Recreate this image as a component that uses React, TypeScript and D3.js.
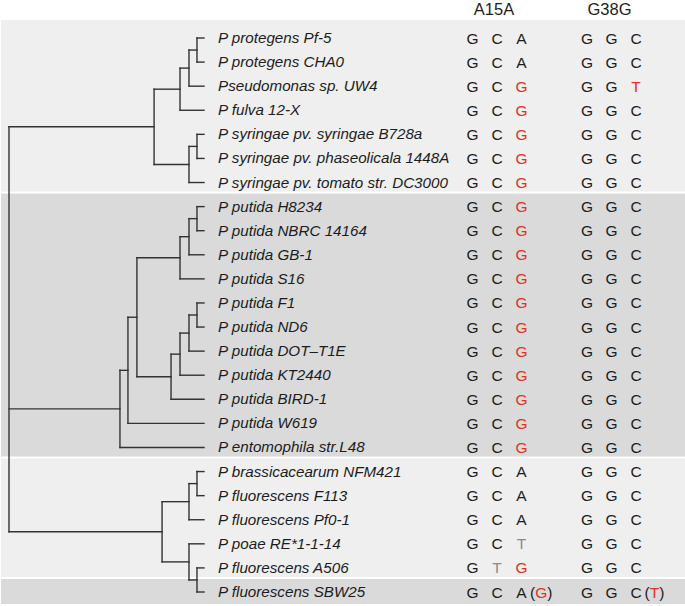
import React from "react";
import * as d3 from "d3";

const species = [
  "P protegens Pf-5",
  "P protegens CHA0",
  "Pseudomonas sp. UW4",
  "P fulva 12-X",
  "P syringae pv. syringae B728a",
  "P syringae pv. phaseolicala 1448A",
  "P syringae pv. tomato str. DC3000",
  "P putida H8234",
  "P putida NBRC 14164",
  "P putida GB-1",
  "P putida S16",
  "P putida F1",
  "P putida ND6",
  "P putida DOT\u2013T1E",
  "P putida KT2440",
  "P putida BIRD-1",
  "P putida W619",
  "P entomophila str.L48",
  "P brassicacearum NFM421",
  "P fluorescens F113",
  "P fluorescens Pf0-1",
  "P poae RE*1-1-14",
  "P fluorescens A506",
  "P fluorescens SBW25",
];

const a15aCodons = [
  "GCA", "GCA", "GCG", "GCG", "GCG", "GCG", "GCG",
  "GCG", "GCG", "GCG", "GCG", "GCG", "GCG", "GCG", "GCG", "GCG", "GCG", "GCG",
  "GCA", "GCA", "GCA", "GCT", "GTG",
  "GCA",
];
const g38gCodons = [
  "GGC", "GGC", "GGT", "GGC", "GGC", "GGC", "GGC",
  "GGC", "GGC", "GGC", "GGC", "GGC", "GGC", "GGC", "GGC", "GGC", "GGC", "GGC",
  "GGC", "GGC", "GGC", "GGC", "GGC",
  "GGC",
];
// alternative allele shown in parentheses (last position)
const a15aAlt = [null, null, null, null, null, null, null, null, null, null, null, null, null, null, null, null, null, null, null, null, null, null, null, "G"];
const g38gAlt = [null, null, null, null, null, null, null, null, null, null, null, null, null, null, null, null, null, null, null, null, null, null, null, "T"];

const columnTitles = ["A15A", "G38G"];
const refCodons = ["GCA", "GGC"];
const highlightAllele = ["G", "T"];

// clade shading groups (row index ranges)
const panelGroups: [number, number][] = [[0, 6], [7, 17], [18, 22], [23, 23]];

// tree: h = cumulative branch depth (0..100), leaves = row indices
type TNode = { h: number; c: (TNode | number)[] };
const tree: TNode = {
  h: 0,
  c: [
    {
      h: 74.4,
      c: [
        { h: 87.7, c: [{ h: 92.3, c: [{ h: 96.4, c: [0, 1] }, 2] }, 3] },
        { h: 92.3, c: [{ h: 96.4, c: [4, 5] }, 6] },
      ],
    },
    {
      h: 56.9,
      c: [
        {
          h: 61.0,
          c: [
            {
              h: 65.6,
              c: [
                { h: 87.7, c: [{ h: 92.3, c: [{ h: 96.4, c: [7, 8] }, 9] }, 10] },
                { h: 83.1, c: [{ h: 87.7, c: [{ h: 92.3, c: [{ h: 96.4, c: [11, 12] }, 13] }, 14] }, 15] },
              ],
            },
            16,
          ],
        },
        17,
      ],
    },
    {
      h: 78.5,
      c: [
        { h: 92.3, c: [{ h: 96.4, c: [18, 19] }, 20] },
        { h: 92.3, c: [21, { h: 96.4, c: [22, 23] }] },
      ],
    },
  ],
};

const W = 685;
const H = 606;
const FONT = "'Liberation Sans', Arial, Helvetica, sans-serif";
const RED = "#e2311f";
const GRAY = "#8a8a8a";
const INK = "#1c1c1c";

export default function App() {
  const y = d3.scaleLinear().domain([0, species.length - 1]).range([38, 592]);
  const x = d3.scaleLinear().domain([0, 100]).range([9, 204]);

  type Laid = { h: number; y: number; kids: Laid[]; leaf?: number };
  const layout = (n: TNode | number): Laid => {
    if (typeof n === "number") return { h: 100, y: y(n), kids: [], leaf: n };
    const kids = n.c.map(layout);
    return { h: n.h, y: (kids[0].y + kids[kids.length - 1].y) / 2, kids };
  };
  const root = d3.hierarchy(layout(tree), (d: Laid) => d.kids);

  const segs: { x1: number; y1: number; x2: number; y2: number }[] = [];
  root.each((node) => {
    const d = node.data as Laid;
    if (d.kids.length) {
      segs.push({ x1: x(d.h), y1: d.kids[0].y, x2: x(d.h), y2: d.kids[d.kids.length - 1].y });
      d.kids.forEach((k) => segs.push({ x1: x(d.h), y1: k.y, x2: x(k.h), y2: k.y }));
    }
  });

  const panels = panelGroups.map(([a, b], i) => {
    const top = i === 0 ? 20 : (y(a) + y(a - 1)) / 2 - 1;
    const bot = i === panelGroups.length - 1 ? 604 : (y(b) + y(b + 1)) / 2 - 3;
    return { top, bot, dark: i % 2 === 1 };
  });

  const colCenters = [497, 611.5];
  const letterDx = 24.5;
  const headerX = [494, 609.5];
  const codonSets = [a15aCodons, g38gCodons];
  const altSets = [a15aAlt, g38gAlt];

  const letterColor = (col: number, pos: number, ch: string) => {
    if (ch === refCodons[col][pos]) return INK;
    if (pos === 2 && ch === highlightAllele[col]) return RED;
    return GRAY;
  };

  return (
    <svg
      width={W}
      height={H}
      style={{ position: "absolute", left: 0, top: 0, display: "block", background: "#fff" }}
      fontFamily={FONT}
    >
      {panels.map((p, i) => (
        <rect key={i} x={1} y={p.top} width={W - 1} height={p.bot - p.top} fill={p.dark ? "#dadada" : "#efefef"} />
      ))}
      {segs.map((s, i) => (
        <line key={i} x1={s.x1} y1={s.y1} x2={s.x2} y2={s.y2} stroke="#333" strokeWidth={1.4} strokeLinecap="square" />
      ))}
      {species.map((name, i) => (
        <text key={i} x={218} y={y(i) + 5} fontSize={15.2} fontStyle="italic" fill={INK}>
          {name}
        </text>
      ))}
      {columnTitles.map((t, c) => (
        <text key={t} x={headerX[c]} y={15} fontSize={16.5} textAnchor="middle" fill={INK}>
          {t}
        </text>
      ))}
      {codonSets.map((codons, c) =>
        codons.map((codon, i) => (
          <g key={`${c}-${i}`}>
            {codon.split("").map((ch, p) => (
              <text
                key={p}
                x={colCenters[c] + (p - 1) * letterDx}
                y={y(i) + 5.5}
                fontSize={15.5}
                textAnchor="middle"
                fill={letterColor(c, p, ch)}
              >
                {ch}
              </text>
            ))}
            {altSets[c][i] ? (
              <text x={colCenters[c] + letterDx + 8.5} y={y(i) + 5.5} fontSize={15.5} fill={INK}>
                (<tspan fill={RED}>{altSets[c][i]}</tspan>)
              </text>
            ) : null}
          </g>
        ))
      )}
    </svg>
  );
}
